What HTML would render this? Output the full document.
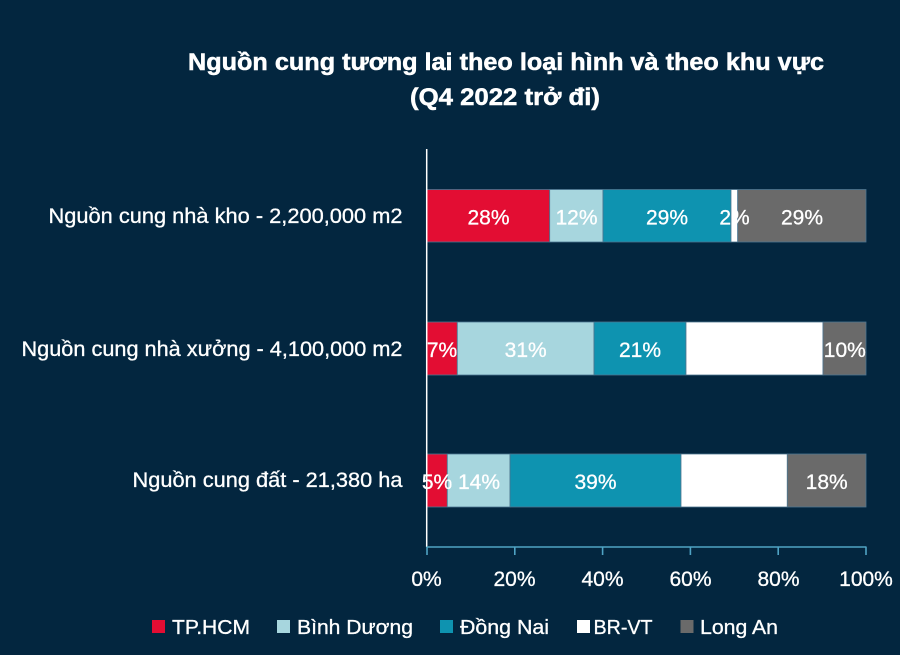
<!DOCTYPE html>
<html>
<head>
<meta charset="utf-8">
<style>
  html, body { margin: 0; padding: 0; background: #03263f; }
  svg { display: block; }
  text { font-family: "Liberation Sans", "DejaVu Sans", sans-serif; fill: #ffffff; }
</style>
</head>
<body>
<svg width="900" height="655" viewBox="0 0 900 655" xmlns="http://www.w3.org/2000/svg">
  <rect x="0" y="0" width="900" height="655" fill="#03263f"/>

  <!-- Title -->
  <g stroke="#ffffff" stroke-width="0.5">
  <text x="188" y="70" font-size="24" font-weight="bold" textLength="636" lengthAdjust="spacingAndGlyphs">Nguồn cung tương lai theo loại hình và theo khu vực</text>
  <text x="410" y="105" font-size="24" font-weight="bold" textLength="190" lengthAdjust="spacingAndGlyphs">(Q4 2022 trở đi)</text>
  </g>

  <g stroke="#ffffff" stroke-width="0.3">
  <!-- Category labels -->
  <text x="48.5" y="223" font-size="21" textLength="354" lengthAdjust="spacingAndGlyphs">Nguồn cung nhà kho - 2,200,000 m2</text>
  <text x="21.5" y="356" font-size="21" textLength="381" lengthAdjust="spacingAndGlyphs">Nguồn cung nhà xưởng - 4,100,000 m2</text>
  <text x="132.5" y="487" font-size="21" textLength="270" lengthAdjust="spacingAndGlyphs">Nguồn cung đất - 21,380 ha</text>
  </g>

  <!-- Bars -->
  <g stroke="#4d7590" stroke-width="0.8">
    <!-- Bar 1 -->
    <rect x="427" y="189.5" width="122.7" height="52.5" fill="#e30d33"/>
    <rect x="549.7" y="189.5" width="53.3" height="52.5" fill="#a7d6de"/>
    <rect x="603" y="189.5" width="128" height="52.5" fill="#0e93b0"/>
    <rect x="731" y="189.5" width="6.7" height="52.5" fill="#ffffff"/>
    <rect x="737.7" y="189.5" width="128.3" height="52.5" fill="#6a6a6a"/>
    <!-- Bar 2 -->
    <rect x="427" y="322" width="30.3" height="53" fill="#e30d33"/>
    <rect x="457.3" y="322" width="136.7" height="53" fill="#a7d6de"/>
    <rect x="594" y="322" width="92" height="53" fill="#0e93b0"/>
    <rect x="686" y="322" width="137" height="53" fill="#ffffff"/>
    <rect x="823" y="322" width="43" height="53" fill="#6a6a6a"/>
    <!-- Bar 3 -->
    <rect x="427" y="454" width="20.3" height="53" fill="#e30d33"/>
    <rect x="447.3" y="454" width="62.7" height="53" fill="#a7d6de"/>
    <rect x="510" y="454" width="171" height="53" fill="#0e93b0"/>
    <rect x="681" y="454" width="106.3" height="53" fill="#ffffff"/>
    <rect x="787.3" y="454" width="78.7" height="53" fill="#6a6a6a"/>
  </g>

  <!-- Bar value labels -->
  <g font-size="21" text-anchor="middle" stroke="#ffffff" stroke-width="0.3">
    <text x="488.5" y="224.5">28%</text>
    <text x="576.5" y="224.5">12%</text>
    <text x="667" y="224.5">29%</text>
    <text x="734.5" y="224.5">2%</text>
    <text x="802" y="224.5">29%</text>

    <text x="442" y="357">7%</text>
    <text x="525.7" y="357">31%</text>
    <text x="640" y="357">21%</text>
    <text x="844.8" y="357">10%</text>

    <text x="437" y="489">5%</text>
    <text x="479" y="489">14%</text>
    <text x="595.5" y="489">39%</text>
    <text x="826.7" y="489">18%</text>
  </g>

  <!-- Axes -->
  <line x1="426.7" y1="149" x2="426.7" y2="547" stroke="#ffffff" stroke-width="1.5"/>
  <line x1="426.5" y1="547" x2="866.5" y2="547" stroke="#4fa3c4" stroke-width="1.6"/>
  <g stroke="#4fa3c4" stroke-width="1.6">
    <line x1="427" y1="547" x2="427" y2="555"/>
    <line x1="514.8" y1="547" x2="514.8" y2="555"/>
    <line x1="602.6" y1="547" x2="602.6" y2="555"/>
    <line x1="690.4" y1="547" x2="690.4" y2="555"/>
    <line x1="778.2" y1="547" x2="778.2" y2="555"/>
    <line x1="866" y1="547" x2="866" y2="555"/>
  </g>

  <!-- Tick labels -->
  <g font-size="21" text-anchor="middle" stroke="#ffffff" stroke-width="0.3">
    <text x="426.5" y="586">0%</text>
    <text x="514.5" y="586">20%</text>
    <text x="602.5" y="586">40%</text>
    <text x="690.5" y="586">60%</text>
    <text x="778.5" y="586">80%</text>
    <text x="866" y="586">100%</text>
  </g>

  <!-- Legend -->
  <rect x="152" y="620" width="13" height="13" fill="#e30d33"/>
  <rect x="277" y="620" width="13" height="13" fill="#a7d6de"/>
  <rect x="440" y="620" width="13" height="13" fill="#0e93b0"/>
  <rect x="577" y="620" width="13" height="13" fill="#ffffff"/>
  <rect x="680.5" y="620" width="13" height="13" fill="#6a6a6a"/>
  <g stroke="#ffffff" stroke-width="0.3" font-size="20">
  <text x="172" y="634" textLength="78" lengthAdjust="spacingAndGlyphs">TP.HCM</text>
  <text x="297" y="634" textLength="116" lengthAdjust="spacingAndGlyphs">Bình Dương</text>
  <text x="460" y="634" textLength="89" lengthAdjust="spacingAndGlyphs">Đồng Nai</text>
  <text x="593.5" y="634" textLength="59" lengthAdjust="spacingAndGlyphs">BR-VT</text>
  <text x="700" y="634" textLength="78" lengthAdjust="spacingAndGlyphs">Long An</text>
  </g>
</svg>
</body>
</html>
